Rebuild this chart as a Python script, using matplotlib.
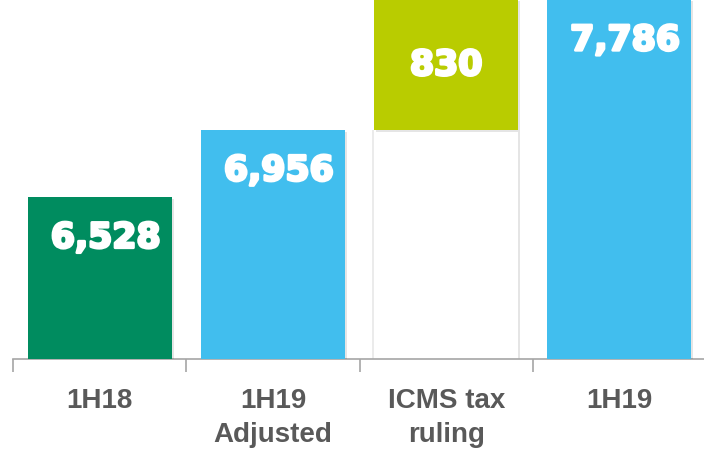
import matplotlib as mpl
import matplotlib.pyplot as plt
import matplotlib.patheffects as pe

# 数据
categories = ['1H18', '1H19\nAdjusted', 'ICMS tax\nruling', '1H19']
values = [6528, 6956, 830, 7786]
bases = [0, 0, 6956, 0]
labels = ['6,528', '6,956', '830', '7,786']
colors = ['#008C5F', '#41BEEE', '#B9CC00', '#41BEEE']

mpl.rcParams['font.family'] = ['Liberation Sans', 'DejaVu Sans']

fig = plt.figure(figsize=(7.04, 4.53), dpi=100)
ax = fig.add_axes([13 / 704, 94 / 453, 693 / 704, 359 / 453])

ymin = 5499
shadow = [pe.SimplePatchShadow(offset=(1.5, -1), shadow_rgbFace='k', alpha=0.1), pe.Normal()]
x = range(len(categories))

# 白色底座（ICMS 柱下面）
ax.bar(2, bases[2] - ymin, bottom=ymin, width=0.83, color='white',
       path_effects=[pe.SimplePatchShadow(offset=(-1.5, 0), shadow_rgbFace='k', alpha=0.08)] + shadow,
       zorder=2)

num_style = dict(color='white', fontsize=25, fontweight='bold',
                 family=['DejaVu Sans'], zorder=4,
                 path_effects=[pe.withStroke(linewidth=2, foreground='white')])

for i in x:
    bot = bases[i] if bases[i] else ymin
    top = bases[i] + values[i]
    ax.bar(i, top - bot, bottom=bot, width=0.83, color=colors[i],
           path_effects=shadow, zorder=3)
    if bases[i]:
        ax.text(i, bot + values[i] / 2, labels[i], ha='center', va='center', **num_style)
    else:
        ax.annotate(labels[i], (i + 0.83 / 2, top), xytext=(-8, -29),
                    textcoords='offset points', ha='right', va='center', **num_style)

ax.set_ylim(ymin, 7786)
ax.set_xlim(-0.5, 3.5)

for s in ['top', 'right', 'left']:
    ax.spines[s].set_visible(False)
ax.spines['bottom'].set_color('#A6A6A6')
ax.spines['bottom'].set_linewidth(1.2)
ax.set_yticks([])
ax.set_xticks(list(x))
ax.set_xticklabels(categories, fontsize=20, fontweight='bold', color='#595959',
                   linespacing=1.4)
ax.tick_params(axis='x', which='major', length=0, pad=21)
ax.set_xticks([-0.5, 0.5, 1.5, 2.5, 3.5], minor=True)
ax.tick_params(axis='x', which='minor', length=9, color='#A6A6A6', width=1.2)

fig.savefig('out.png', dpi=100)
